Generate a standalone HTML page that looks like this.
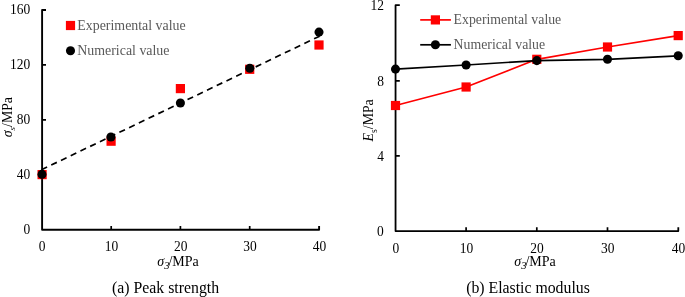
<!DOCTYPE html>
<html>
<head>
<meta charset="utf-8">
<title>Peak strength and elastic modulus</title>
<style>
html,body{margin:0;padding:0;background:#fff;}
body{width:685px;height:297px;overflow:hidden;}
svg{display:block;}
text{font-family:"Liberation Serif","Times New Roman",serif;fill:#000;}
.tk{font-size:14.2px;}
.lg{font-size:13.9px;fill:#595959;}
.ax{font-size:14px;}
.cap{font-size:15.8px;}
.it{font-style:italic;}
.sub{font-size:10.6px;}
</style>
</head>
<body>
<svg width="685" height="297" viewBox="0 0 685 297">
<rect width="685" height="297" fill="#fff"/>

<!-- ============ (a) Peak strength ============ -->
<g id="chartA">
  <!-- axes -->
  <g stroke="#000" stroke-width="1.9" fill="none" stroke-linecap="butt" stroke-linejoin="round">
    <path d="M46 10H42.1V229.8H319.1V225.9"/>
    <path d="M42.1 64.9H46M42.1 119.8H46M42.1 174.6H46" stroke-width="1.7"/>
    <path d="M111.2 229.8V225.9M180.4 229.8V225.9M249.7 229.8V225.9" stroke-width="1.7"/>
  </g>
  <!-- y tick labels -->
  <g class="tk" text-anchor="end">
    <text transform="translate(30.2 14.2) scale(0.95 1)">160</text>
    <text transform="translate(30.2 69.2) scale(0.95 1)">120</text>
    <text transform="translate(30.2 124.1) scale(0.95 1)">80</text>
    <text transform="translate(30.2 178.9) scale(0.95 1)">40</text>
    <text transform="translate(30.2 234.4) scale(0.95 1)">0</text>
  </g>
  <!-- x tick labels -->
  <g class="tk" text-anchor="middle">
    <text transform="translate(42.2 250.6) scale(0.95 1)">0</text>
    <text transform="translate(111.5 250.6) scale(0.95 1)">10</text>
    <text transform="translate(180.8 250.6) scale(0.95 1)">20</text>
    <text transform="translate(250.1 250.6) scale(0.95 1)">30</text>
    <text transform="translate(319.4 250.6) scale(0.95 1)">40</text>
  </g>
  <!-- trend line -->
  <path d="M41.5 169.75L319.6 36.15" stroke="#000" stroke-width="1.7" stroke-dasharray="6.2 4.6" fill="none"/>
  <!-- experimental -->
  <g fill="#ff0000">
    <rect x="37.5" y="170.0" width="9.2" height="9.2"/>
    <rect x="106.5" y="136.6" width="9.2" height="9.2"/>
    <rect x="175.8" y="84.0" width="9.2" height="9.2"/>
    <rect x="245.1" y="64.7" width="9.2" height="9.2"/>
    <rect x="314.4" y="40.4" width="9.2" height="9.2"/>
  </g>
  <!-- numerical -->
  <g fill="#000">
    <circle cx="42" cy="174.4" r="4.55"/>
    <circle cx="110.9" cy="137" r="4.55"/>
    <circle cx="180.4" cy="103" r="4.55"/>
    <circle cx="249.8" cy="68.2" r="4.55"/>
    <circle cx="319" cy="32.1" r="4.55"/>
  </g>
  <!-- legend -->
  <rect x="65.9" y="20.9" width="9.2" height="9.2" fill="#ff0000"/>
  <circle cx="70.5" cy="50.7" r="4.55" fill="#000"/>
  <text class="lg" x="77.3" y="29.8">Experimental value</text>
  <text class="lg" x="77.3" y="54.6">Numerical value</text>
  <!-- axis titles -->
  <text class="ax" x="157.3" y="265.6"><tspan class="it">σ</tspan><tspan class="sub it" dy="3.5">3</tspan><tspan dy="-3.5" dx="-1.1">/MPa</tspan></text>
  <text class="ax" style="font-size:13.8px" transform="translate(11.8 137.2) rotate(-90)"><tspan class="it">σ</tspan><tspan class="sub it" style="font-size:8.8px" dy="3.2">s</tspan><tspan dy="-3.2">/MPa</tspan></text>
  <text class="cap" x="165.6" y="293" text-anchor="middle">(a) Peak strength</text>
</g>

<!-- ============ (b) Elastic modulus ============ -->
<g id="chartB">
  <g stroke="#000" stroke-width="1.8" fill="none" stroke-linejoin="round">
    <path d="M399.8 5.2H395.55V231.1H678.3V227.2"/>
    <path d="M395.55 80.9H399.8M395.55 155.9H399.8" stroke-width="1.7"/>
    <path d="M466.1 231.1V227.2M536.8 231.1V227.2M607.5 231.1V227.2" stroke-width="1.7"/>
  </g>
  <g class="tk" text-anchor="end">
    <text transform="translate(383.9 9.5) scale(0.95 1)">12</text>
    <text transform="translate(384 86.1) scale(0.95 1)">8</text>
    <text transform="translate(383.9 161.3) scale(0.95 1)">4</text>
    <text transform="translate(383.7 236.1) scale(0.95 1)">0</text>
  </g>
  <g class="tk" text-anchor="middle">
    <text transform="translate(395.9 252.8) scale(0.95 1)">0</text>
    <text transform="translate(466.4 252.8) scale(0.95 1)">10</text>
    <text transform="translate(537.1 252.8) scale(0.95 1)">20</text>
    <text transform="translate(607.8 252.8) scale(0.95 1)">30</text>
    <text transform="translate(678.4 252.8) scale(0.95 1)">40</text>
  </g>
  <!-- experimental line -->
  <path d="M395.5 105.5L466.1 87L536.8 59.3L607.5 47L678.2 35.6" stroke="#ff0000" stroke-width="1.7" fill="none" stroke-linejoin="round"/>
  <g fill="#ff0000">
    <rect x="390.9" y="100.9" width="9.2" height="9.2"/>
    <rect x="461.5" y="82.4" width="9.2" height="9.2"/>
    <rect x="532.2" y="54.7" width="9.2" height="9.2"/>
    <rect x="602.9" y="42.4" width="9.2" height="9.2"/>
    <rect x="673.6" y="31.0" width="9.2" height="9.2"/>
  </g>
  <!-- numerical line -->
  <path d="M395.5 69.1L466.1 65L536.8 60.6L607.5 59.3L678.2 55.8" stroke="#000" stroke-width="1.7" fill="none" stroke-linejoin="round"/>

  <g fill="#000">
    <circle cx="395.5" cy="69.1" r="4.55"/>
    <circle cx="466.1" cy="65" r="4.55"/>
    <circle cx="536.8" cy="60.6" r="4.55"/>
    <circle cx="607.5" cy="59.3" r="4.55"/>
    <circle cx="678.2" cy="55.8" r="4.55"/>
  </g>
  <!-- legend -->
  <path d="M420.2 19.9H450.9" stroke="#ff0000" stroke-width="1.7"/>
  <rect x="430.8" y="15.3" width="9.2" height="9.2" fill="#ff0000"/>
  <path d="M420.2 44.8H450.9" stroke="#000" stroke-width="1.7"/>
  <circle cx="435.4" cy="44.8" r="4.55" fill="#000"/>
  <text class="lg" style="font-size:13.8px" x="453.6" y="24.2">Experimental value</text>
  <text class="lg" style="font-size:13.8px" x="453.6" y="49.2">Numerical value</text>
  <!-- axis titles -->
  <text class="ax" x="514.3" y="265.5"><tspan class="it">σ</tspan><tspan class="sub it" dy="3.5">3</tspan><tspan dy="-3.5" dx="-1.1">/MPa</tspan></text>
  <text class="ax" style="font-size:14.4px" transform="translate(373.4 141.4) rotate(-90) scale(0.96 1)"><tspan class="it">E</tspan><tspan class="sub" style="font-size:10px" dy="3.8">s</tspan><tspan dy="-3.8">/MPa</tspan></text>
  <text class="cap" x="528" y="293" text-anchor="middle">(b) Elastic modulus</text>
</g>
</svg>
</body>
</html>
